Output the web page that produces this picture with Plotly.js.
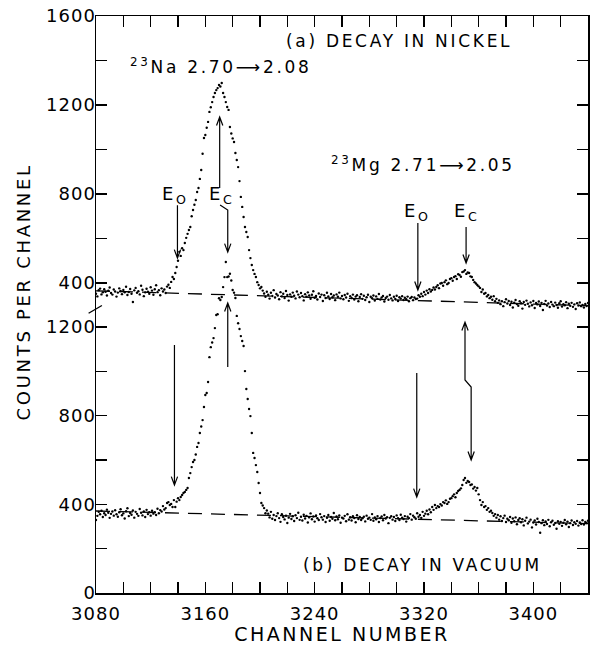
<!DOCTYPE html>
<html><head><meta charset="utf-8">
<script src="https://cdn.plot.ly/plotly-3.0.1.min.js"></script>
<style>
html,body{margin:0;padding:0;background:#fff;}
#chart{width:590px;height:646px;}
.annotation-text{letter-spacing:2.7px;}
.xtitle{letter-spacing:2.5px;}
.ytitle{letter-spacing:2.4px;}
.xtick text,.ytick text,.y2tick text{letter-spacing:1px;}
</style></head><body><div id="chart"></div>
<script>
// ---- data ----
const startChannel = 3080;
// (a) decay in nickel, counts per channel, channels 3080..3440
const countsNickel = [
352,340,368,375,349,358,372,361,344,366,
380,355,348,371,362,339,357,376,364,350,
369,358,383,346,360,373,352,315,367,378,
356,363,349,388,370,341,358,374,361,352,
381,366,347,372,390,359,368,345,376,362,
371,355,384,392,378,405,427,418,
445,472,500,540,522,556,548,580,603,621,
638,652,700,728,752,773,809,827,868,908,
981,1052,1065,1098,1124,1169,1190,1213,1236,1254,
1267,1276,1290,1283,1299,1254,1236,1213,1191,1178,
1101,1072,1050,1034,984,953,921,858,787,742,
697,652,629,607,548,512,481,458,441,427,
404,391,376,382,366,
353,338,361,347,330,356,342,368,335,351,
344,327,359,340,352,333,364,346,321,349,
338,357,343,331,362,348,336,355,341,322,
350,339,358,344,329,347,363,334,342,326,
353,337,348,319,345,333,356,340,328,351,
336,344,323,349,338,357,331,342,327,346,
335,352,320,341,333,348,326,339,345,318,
337,350,329,343,324,336,347,315,338,332,
344,321,340,329,351,326,335,342,317,333,
339,325,346,331,322,338,328,343,319,336,
330,341,324,334,327,339,318,332,337,323,
335,328,
330,345,338,352,341,360,348,366,355,372,
362,369,380,371,382,390,377,398,400,388,
404,412,395,400,418,422,410,427,431,418,
440,436,428,449,452,458,441,447,445,430,
427,414,404,398,391,385,378,360,371,352,
355,340,346,332,338,325,341,318,
329,311,322,305,318,296,314,327,308,319,
301,316,290,312,324,306,298,318,309,285,
315,302,321,307,295,313,300,319,288,310,
304,317,297,311,279,306,320,299,308,292,
315,303,296,312,301,289,309,318,294,305,
300,314,287,307,298,311,293,304,283,309,
299,313,296,302,290,306,297,310
];
// (b) decay in vacuum, counts per channel, channels 3080..3440
const countsVacuum = [
329,348,366,355,371,343,360,352,376,362,
339,357,368,349,373,355,344,364,378,351,
359,336,369,382,347,361,353,372,340,366,
357,348,379,362,350,368,343,375,356,364,
349,371,358,
365,352,380,360,374,368,392,377,383,406,
410,397,402,388,419,388,412,
428,419,433,442,451,456,465,474,519,541,
568,591,600,625,659,677,722,751,780,839,
893,902,952,1064,1109,1130,1150,1195,1254,1258,
1330,1322,1335,1380,1425,1493,1425,1428,1440,1410,
1367,1355,1331,1250,1217,1191,1159,1137,1114,1001,
920,875,830,798,722,632,609,577,546,496,
451,406,395,383,360,372,
358,341,366,335,352,329,347,360,338,321,
355,343,332,349,316,340,357,334,346,325,
351,338,362,330,344,327,353,336,348,318,
341,359,333,345,322,350,337,329,356,342,
331,347,320,339,352,326,343,335,361,328,
345,333,350,317,340,336,348,324,355,331,
342,327,346,338,319,351,334,343,329,337,
344,323,349,335,340,330,356,326,341,333,
347,320,338,345,328,352,336,342,315,339,
346,331,343,325,350,337,329,353,340,334,
347,322,344,338,356,331,349,342,335,360,
344,352,339,366,348,358,371,355,377,364,
388,375,397,383,392,388,401,395,410,406,
418,402,410,425,428,437,445,432,451,460,
465,472,487,510,519,497,505,501,487,490,
471,478,462,474,445,419,397,410,388,392,
375,383,366,371,361,348,356,
340,352,331,346,325,338,349,320,335,328,
343,317,336,324,341,310,329,337,319,333,
305,326,340,314,322,331,296,318,327,309,
335,320,272,315,328,306,323,311,330,301,
319,326,308,316,290,324,312,321,303,317,
329,310,322,298,315,327,307,319,312,325,
304,318,311,328,309,320,316,326
];
// fitted background (dashed) lines
const bgChannels = [3080, 3440];
const bgNickel = [365, 298];
const bgVacuum = [370, 313];
// tick labels
const xTickLabels = [3080, 3160, 3240, 3320, 3400];
const yTicksVacuum = [0, 400, 800, 1200];
const yMinorVacuum = [200, 600, 1000];
const yTicksNickel = [400, 800, 1200, 1600];
const yMinorNickel = [600, 1000, 1400];

const channels = countsNickel.map((_, i) => startChannel + i);
const channelsV = countsVacuum.map((_, i) => startChannel + i);

const dot = {size: 2.4, color: 'black'};
const traces = [
  {x: channels, y: countsNickel, yaxis: 'y2', mode: 'markers', type: 'scatter', marker: dot, hoverinfo: 'skip'},
  {x: channelsV, y: countsVacuum, yaxis: 'y', mode: 'markers', type: 'scatter', marker: dot, hoverinfo: 'skip'},
  {x: bgChannels, y: bgNickel, yaxis: 'y2', mode: 'lines', type: 'scatter', line: {color: 'black', width: 1.3, dash: '14px,9px'}, hoverinfo: 'skip'},
  {x: bgChannels, y: bgVacuum, yaxis: 'y', mode: 'lines', type: 'scatter', line: {color: 'black', width: 1.3, dash: '14px,9px'}, hoverinfo: 'skip'}
];

// ---- arrows (decorations) ----
function headPath(x, y, dir) {
  const hw = 2.3, hl = 38;
  return 'M' + (x - hw) + ',' + (y - dir * hl) + 'L' + x + ',' + y + 'L' + (x + hw) + ',' + (y - dir * hl);
}
function linePath(pts) { return pts.map((p, i) => (i ? 'L' : 'M') + p[0] + ',' + p[1]).join(''); }
const arrowDefs = [
  {ref: 'y2', pts: [[3139.6, 750], [3139.6, 512]], heads: [[3139.6, 512, -1]]},
  {ref: 'y2', pts: [[3170.8, 751], [3176.4, 728], [3176.4, 539]], heads: [[3176.4, 539, -1]]},
  {ref: 'y2', pts: [[3170.5, 827], [3170.5, 1146]], heads: [[3170.5, 1146, 1]]},
  {ref: 'y2', pts: [[3315.5, 670], [3315.5, 369]], heads: [[3315.5, 369, -1]]},
  {ref: 'y2', pts: [[3350.8, 652], [3350.8, 490]], heads: [[3350.8, 490, -1]]},
  {ref: 'y', pts: [[3137.4, 1119], [3137.4, 487]], heads: [[3137.4, 487, -1]]},
  {ref: 'y', pts: [[3176.4, 1019], [3176.4, 1308]], heads: [[3176.4, 1308, 1]]},
  {ref: 'y', pts: [[3314.7, 992], [3314.7, 433]], heads: [[3314.7, 433, -1]]},
  {ref: 'y', pts: [[3350, 1222], [3350, 961], [3354.5, 929], [3354.5, 600]], heads: [[3350, 1222, 1], [3354.5, 600, -1]]}
];
const shapes = arrowDefs.map(a => ({
  type: 'path', xref: 'x', yref: a.ref,
  path: linePath(a.pts) + a.heads.map(h => headPath(h[0], h[1], h[2])).join(''),
  line: {color: 'black', width: 1.2}
}));
// axis break mark
shapes.push({type: 'line', xref: 'paper', yref: 'y', x0: -0.015, x1: 0.012, y0: 1262, y1: 1297, line: {color: 'black', width: 1.3}});

const txt = {family: 'DejaVu Sans', size: 17, color: 'black'};
const eFont = {family: 'DejaVu Sans', size: 18, color: 'black'};
const annotations = [
  {text: '(a) DECAY IN NICKEL', x: 3217.6, y: 1488, xref: 'x', yref: 'y2', xanchor: 'left', yanchor: 'middle', showarrow: false, font: txt},
  {text: '<sup>23</sup>Na 2.70\u27F62.08', x: 3103.5, y: 1375, xref: 'x', yref: 'y2', xanchor: 'left', yanchor: 'middle', showarrow: false, font: txt},
  {text: '<sup>23</sup>Mg 2.71\u27F62.05', x: 3250.7, y: 935, xref: 'x', yref: 'y2', xanchor: 'left', yanchor: 'middle', showarrow: false, font: txt},
  {text: 'E<sub>O</sub>', x: 3138.1, y: 795, xref: 'x', yref: 'y2', xanchor: 'center', yanchor: 'middle', showarrow: false, font: eFont},
  {text: 'E<sub>C</sub>', x: 3172.3, y: 795, xref: 'x', yref: 'y2', xanchor: 'center', yanchor: 'middle', showarrow: false, font: eFont},
  {text: 'E<sub>O</sub>', x: 3315.5, y: 719, xref: 'x', yref: 'y2', xanchor: 'center', yanchor: 'middle', showarrow: false, font: eFont},
  {text: 'E<sub>C</sub>', x: 3351.5, y: 719, xref: 'x', yref: 'y2', xanchor: 'center', yanchor: 'middle', showarrow: false, font: eFont},
  {text: '(b) DECAY IN VACUUM', x: 3230, y: 126, xref: 'x', yref: 'y', xanchor: 'left', yanchor: 'middle', showarrow: false, font: txt},
  // y-axis title placed as a rotated label (its centre sits above the plot's middle in the reference)
  {text: 'COUNTS PER CHANNEL', x: -0.147, y: 0.522, xref: 'paper', yref: 'paper', xanchor: 'center', yanchor: 'middle', textangle: -90, showarrow: false, font: {family: 'DejaVu Sans', size: 18, color: 'black'}}
];

const axCommon = {
  showgrid: false, zeroline: false, showline: true, linecolor: 'black', linewidth: 1.5,
  ticks: 'inside', ticklen: 11, tickwidth: 1.5, tickcolor: 'black', mirror: 'ticks',
  tickfont: {family: 'DejaVu Sans', size: 18, color: 'black'}
};
const layout = {
  width: 590, height: 646,
  margin: {l: 96, r: 2, t: 16, b: 53},
  paper_bgcolor: 'white', plot_bgcolor: 'white',
  showlegend: false,
  font: {family: 'DejaVu Sans', size: 18, color: 'black'},
  xaxis: Object.assign({}, axCommon, {
    range: [3080, 3440], tickmode: 'array', tickvals: xTickLabels,
    minor: {dtick: 20, tick0: 3080, ticks: 'inside', ticklen: 11, tickwidth: 1.5, tickcolor: 'black', showgrid: false},
    title: {text: 'CHANNEL NUMBER', font: {family: 'DejaVu Sans', size: 19, color: 'black'}, standoff: 8}
  }),
  yaxis: Object.assign({}, axCommon, {
    range: [0, 2603], tickmode: 'array', tickvals: yTicksVacuum,
    minor: {tickmode: 'array', tickvals: yMinorVacuum, ticks: 'inside', ticklen: 11, tickwidth: 1.5, tickcolor: 'black', showgrid: false}
  }),
  yaxis2: Object.assign({}, axCommon, {
    overlaying: 'y', side: 'left',
    range: [-993, 1600], tickmode: 'array', tickvals: yTicksNickel,
    minor: {tickmode: 'array', tickvals: yMinorNickel, ticks: 'inside', ticklen: 11, tickwidth: 1.5, tickcolor: 'black', showgrid: false}
  }),
  shapes: shapes,
  annotations: annotations
};
function nudgeLabels() {
  // bring tick labels closer to the frame, as in the reference lettering
  document.querySelectorAll('#chart g.ytick > text, #chart g.y2tick > text').forEach(function (t) {
    if (t.dataset.nudged) return;
    t.dataset.nudged = '1';
    t.setAttribute('x', (parseFloat(t.getAttribute('x')) || 0) + 5);
  });
  document.querySelectorAll('#chart g.xtick > text').forEach(function (t) {
    if (t.dataset.nudged) return;
    t.dataset.nudged = '1';
    t.setAttribute('y', (parseFloat(t.getAttribute('y')) || 0) + 4);
  });
}
const gd = document.getElementById('chart');
const p = Plotly.newPlot(gd, traces, layout, {displayModeBar: false, staticPlot: true});
nudgeLabels();
p.then(nudgeLabels);
setTimeout(nudgeLabels, 0);
</script></body></html>
